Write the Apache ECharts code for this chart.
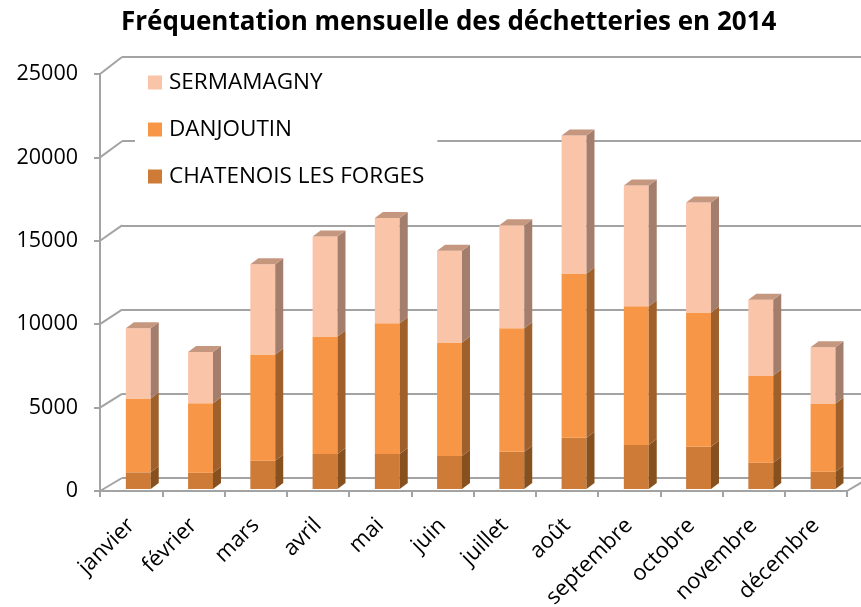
<!DOCTYPE html>
<html>
<head>
<meta charset="utf-8">
<script src="https://cdn.jsdelivr.net/npm/echarts@6/dist/echarts.min.js"></script>
<style>html,body{margin:0;padding:0;background:#fff;}#c{width:861px;height:607px;}</style>
</head>
<body>
<div id="c"></div>
<script>
const months = ['janvier','février','mars','avril','mai','juin','juillet','août','septembre','octobre','novembre','décembre'];
const chatenois = [1000, 980, 1700, 2100, 2100, 1980, 2240, 3080, 2640, 2540, 1580, 1040];
const danjoutin = [4420, 4160, 6360, 7040, 7840, 6800, 7400, 9840, 8320, 8040, 5220, 4080];
const sermamagny = [4220, 3080, 5420, 6000, 6300, 5500, 6170, 8280, 7240, 6600, 4540, 3380];
const yTicks = [0, 5000, 10000, 15000, 20000, 25000];

const FRONT = {left: 100, top: 74, right: 14, bottom: 116};
const BACK = {left: 122, top: 57, right: -8, bottom: 129};
const GRID_COLOR = '#a3a3a3';
const FONT = '"Open Sans", "Noto Sans", sans-serif';

const colors = {
  'CHATENOIS LES FORGES': {front: '#cd7b37', side: '#87501f', top: '#a86530'},
  'DANJOUTIN': {front: '#f79646', side: '#a0602b', top: '#c77a3a'},
  'SERMAMAGNY': {front: '#fac4a9', side: '#a47e6c', top: '#c6977f'}
};

function stackData(vals, bases) {
  return vals.map((v, i) => [i, bases[i], bases[i] + v]);
}
const base0 = months.map(() => 0);
const base1 = chatenois.slice();
const base2 = chatenois.map((v, i) => v + danjoutin[i]);

function barRenderer(isTop, c) {
  return function (params, api) {
    const i = api.value(0), b = api.value(1), t = api.value(2);
    const pb = api.coord([i, b]);
    const pt = api.coord([i, t]);
    const cw = api.size([1, 0])[0];
    const w = cw * 0.40;
    const x0 = pb[0] - w / 2 + cw * 0.115;
    const x1 = x0 + w;
    const yb = pb[1] - 2, yt = pt[1] - 2;
    const dx = 8, dy = -6;
    const children = [
      {type: 'rect', shape: {x: x0, y: yt, width: w, height: yb - yt}, style: {fill: c.front}},
      {type: 'polygon', shape: {points: [[x1, yb], [x1 + dx, yb + dy], [x1 + dx, yt + dy], [x1, yt]]}, style: {fill: c.side}}
    ];
    if (isTop) {
      children.push({type: 'polygon', shape: {points: [[x0, yt], [x0 + dx, yt + dy], [x1 + dx, yt + dy], [x1, yt]]}, style: {fill: c.top}});
    }
    return {type: 'group', children: children};
  };
}

function frameRenderer(params, api) {
  const cs = params.coordSys;
  const H = api.getHeight(), W = api.getWidth();
  const v = api.value(1);
  const fy = api.coord([0, v])[1];
  const t = (fy - cs.y) / cs.height;
  const bh = H - BACK.bottom - BACK.top;
  const by = BACK.top + t * bh;
  const children = [
    {type: 'line', shape: {x1: cs.x, y1: fy, x2: BACK.left, y2: by}, style: {stroke: GRID_COLOR, lineWidth: 2}}
  ];
  if (v === 0) {
    children.push({type: 'line', shape: {x1: cs.x + cs.width, y1: fy, x2: W - BACK.right, y2: by}, style: {stroke: GRID_COLOR, lineWidth: 2}});
  }
  return {type: 'group', children: children};
}

const chart = echarts.init(document.getElementById('c'));
chart.setOption({
  animation: false,
  backgroundColor: '#fff',
  title: {
    text: 'Fréquentation mensuelle des déchetteries en 2014',
    left: 116,
    top: 5,
    textStyle: {fontFamily: FONT, fontWeight: 'bold', fontSize: 26, color: '#000'}
  },
  legend: {
    orient: 'vertical',
    left: 135,
    top: 61,
    padding: [10, 13, 10, 13],
    backgroundColor: '#fff',
    itemWidth: 14,
    itemHeight: 14,
    itemGap: 24,
    icon: 'rect',
    data: ['SERMAMAGNY', 'DANJOUTIN', 'CHATENOIS LES FORGES'],
    textStyle: {fontFamily: FONT, fontSize: 22.5, color: '#000', lineHeight: 23, padding: [0, 0, 0, 2]}
  },
  grid: [
    {left: FRONT.left, top: FRONT.top, right: FRONT.right, bottom: FRONT.bottom, containLabel: false, outerBoundsMode: 'none'},
    {left: BACK.left, top: BACK.top, right: BACK.right, bottom: BACK.bottom, containLabel: false, outerBoundsMode: 'none'}
  ],
  xAxis: [
    {
      type: 'category', gridIndex: 0, data: months,
      axisLine: {lineStyle: {color: GRID_COLOR, width: 2}},
      axisTick: {show: true, length: 6, lineStyle: {color: GRID_COLOR, width: 2}},
      axisLabel: {rotate: 45, margin: 31, fontFamily: FONT, fontSize: 22, color: '#000', interval: 0}
    },
    {type: 'category', gridIndex: 1, data: months, show: false}
  ],
  yAxis: [
    {
      type: 'value', gridIndex: 0, min: 0, max: 25000, interval: 5000,
      axisLine: {show: true, lineStyle: {color: GRID_COLOR, width: 2}},
      axisTick: {show: true, length: 6, lineStyle: {color: GRID_COLOR, width: 2}},
      splitLine: {show: false},
      axisLabel: {margin: 22, fontFamily: FONT, fontSize: 21.5, color: '#000', formatter: v => String(v)}
    },
    {
      type: 'value', gridIndex: 1, min: 0, max: 25000, interval: 5000,
      axisLine: {show: false}, axisTick: {show: false}, axisLabel: {show: false},
      splitLine: {show: true, lineStyle: {color: GRID_COLOR, width: 2}}
    }
  ],
  series: [
    {
      type: 'custom', name: 'frame', xAxisIndex: 0, yAxisIndex: 0, silent: true, z: 1,
      renderItem: frameRenderer,
      data: yTicks.map(v => [0, v])
    },
    {
      type: 'custom', name: 'CHATENOIS LES FORGES', xAxisIndex: 0, yAxisIndex: 0, z: 3,
      itemStyle: {color: colors['CHATENOIS LES FORGES'].front},
      renderItem: barRenderer(false, colors['CHATENOIS LES FORGES']),
      encode: {x: 0, y: [1, 2]},
      data: stackData(chatenois, base0)
    },
    {
      type: 'custom', name: 'DANJOUTIN', xAxisIndex: 0, yAxisIndex: 0, z: 3,
      itemStyle: {color: colors['DANJOUTIN'].front},
      renderItem: barRenderer(false, colors['DANJOUTIN']),
      encode: {x: 0, y: [1, 2]},
      data: stackData(danjoutin, base1)
    },
    {
      type: 'custom', name: 'SERMAMAGNY', xAxisIndex: 0, yAxisIndex: 0, z: 3,
      itemStyle: {color: colors['SERMAMAGNY'].front},
      renderItem: barRenderer(true, colors['SERMAMAGNY']),
      encode: {x: 0, y: [1, 2]},
      data: stackData(sermamagny, base2)
    }
  ]
});
</script>
</body>
</html>
